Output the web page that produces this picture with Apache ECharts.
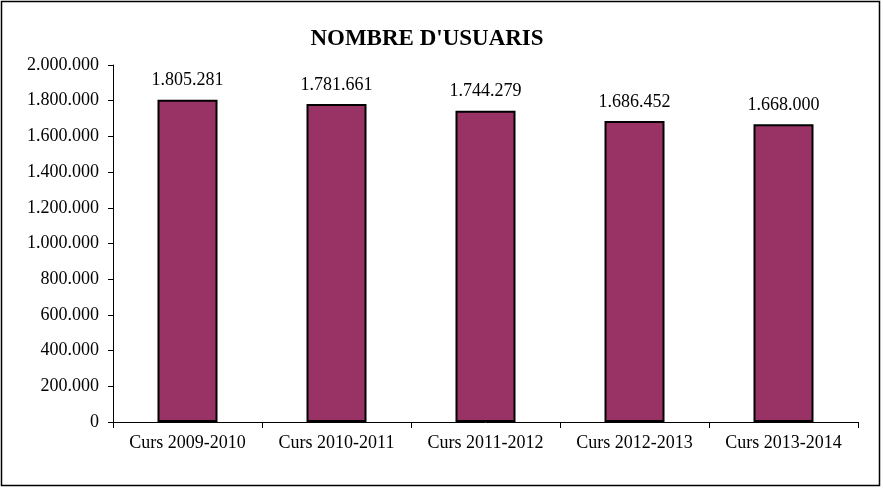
<!DOCTYPE html>
<html><head><meta charset="utf-8">
<script src="https://cdn.jsdelivr.net/npm/echarts@6/dist/echarts.min.js"></script>
<style>html,body{margin:0;padding:0;background:#fff}#c{width:883px;height:489px}</style>
</head><body><div id="c"></div>
<script>
const categories = ["Curs 2009-2010","Curs 2010-2011","Curs 2011-2012","Curs 2012-2013","Curs 2013-2014"];
const users = [1805281,1781661,1744279,1686452,1668000];
const titleText = "NOMBRE D'USUARIS";
function fmt(v){return String(v).replace(/\B(?=(\d{3})+(?!\d))/g,'.');}
const chart = echarts.init(document.getElementById('c'));
chart.setOption({
  animation:false,
  textStyle:{fontFamily:'Liberation Serif'},
  graphic:[{type:'rect',shape:{x:1.5,y:1.5,width:878,height:484},style:{fill:'none',stroke:'#000',lineWidth:1.5},silent:true}],
  title:{text:titleText,left:422,top:23,textAlign:'center',textStyle:{fontFamily:'Liberation Serif',fontWeight:'bold',fontSize:23,color:'#000'}},
  grid:{left:113,right:25,top:65,bottom:67},
  xAxis:{type:'category',data:categories,
    axisLine:{lineStyle:{color:'#000',width:1}},
    axisTick:{show:true,interval:0,length:6,lineStyle:{color:'#000'}},
    axisLabel:{color:'#000',fontSize:18,margin:12,interval:0,hideOverlap:false,fontFamily:'Liberation Serif'}},
  yAxis:{type:'value',min:0,max:2000000,interval:200000,
    axisLine:{show:true,lineStyle:{color:'#000',width:1}},
    axisTick:{show:true,length:5,lineStyle:{color:'#000'}},
    splitLine:{show:false},
    axisLabel:{color:'#000',fontSize:18,margin:14,fontFamily:'Liberation Serif',formatter:fmt}},
  series:[{type:'bar',data:users,barWidth:60,
    itemStyle:{color:'#993366',borderColor:'#000',borderWidth:2},
    label:{show:true,position:'top',distance:10,color:'#000',fontSize:18,fontFamily:'Liberation Serif',formatter:p=>fmt(p.value)}}]
});
</script></body></html>
